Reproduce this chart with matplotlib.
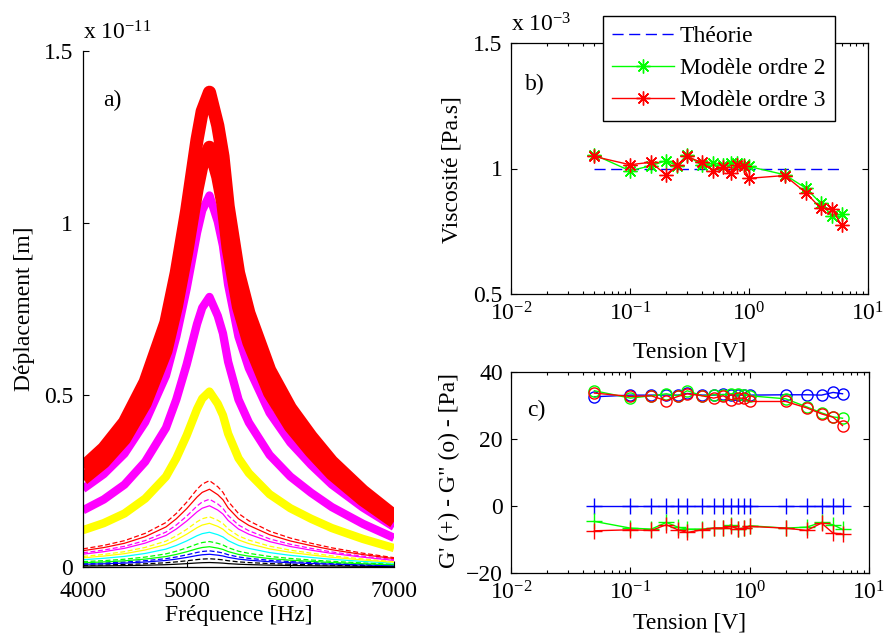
import numpy as np
import matplotlib
matplotlib.use('Agg')
import matplotlib.pyplot as plt

plt.rcParams['font.family'] = ['Liberation Serif', 'DejaVu Serif']
plt.rcParams['mathtext.fontset'] = 'custom'
plt.rcParams['mathtext.rm'] = 'Liberation Serif'
plt.rcParams['mathtext.it'] = 'Liberation Serif:italic'
plt.rcParams['mathtext.bf'] = 'Liberation Serif:bold'

# ---------------- data: panel a) ----------------
freq_hz = [4000, 4200, 4400, 4600, 4800, 4900, 5000, 5100, 5150, 5220, 5300,
           5350, 5400, 5500, 5600, 5800, 6000, 6200, 6400, 6700, 7000]
response_shape = [0.21, 0.25, 0.305, 0.39, 0.515, 0.62, 0.75, 0.90, 0.96, 1.0, 0.93,
                  0.865, 0.76, 0.62, 0.535, 0.415, 0.335, 0.275, 0.222, 0.16, 0.108]
curve_tension_v = [0.05, 0.1, 0.15, 0.2, 0.25, 0.3, 0.4, 0.5, 0.6, 0.7, 0.8, 0.9, 1,
                   2, 3, 4, 5, 6]
peak_displacement = [0.013, 0.024, 0.037, 0.047, 0.059, 0.074, 0.101, 0.127, 0.146,
                     0.178, 0.197, 0.226, 0.251, 0.51, 0.785, 1.08, 1.22, 1.38]  # x 1e-11 m
curve_colors = ['#000000', '#000000', '#0000FF', '#0000FF', '#00FF00', '#00FF00',
                '#00FFFF', '#FFFF00', '#FFFF00', '#FF00FF', '#FF00FF', '#FF0000',
                '#FF0000', '#FFFF00', '#FF00FF', '#FF00FF', '#FF0000', '#FF0000']
curve_styles = ['-', '--', '-', '--', '-', '--', '-', '-', '--', '-', '--', '-', '--',
                '-', '-', '-', '-', '-']
curve_widths = [0.9] * 13 + [6.0, 6.0, 6.0, 9.5, 9.5]

# ---------------- data: panels b) and c) ----------------
tension_v = [0.05, 0.1, 0.15, 0.2, 0.25, 0.3, 0.4, 0.5, 0.6, 0.7, 0.8, 0.9, 1,
             2, 3, 4, 5, 6]
visc_theorie = [1.0] * len(tension_v)
visc_ordre2 = [1.055, 0.991, 1.011, 1.031, 1.011, 1.055, 1.012, 1.021, 1.015, 1.021,
               1.021, 1.012, 1.008, 0.975, 0.922, 0.862, 0.811, 0.818]
visc_ordre3 = [1.048, 1.015, 1.025, 0.975, 1.012, 1.048, 1.024, 0.992, 1.004, 0.981,
               1.012, 1.008, 0.961, 0.972, 0.904, 0.842, 0.839, 0.773]

gp_theorie = [0.0] * len(tension_v)
gpp_theorie = [32.6, 33.1, 33.1, 33.1, 33.1, 33.6, 33.1, 33.1, 33.3, 33.1, 33.1, 33.1,
               33.1, 33.2, 33.2, 33.1, 33.9, 33.5]
gp_ordre2 = [-4.6, -6.6, -6.9, -4.9, -6.3, -6.9, -6.9, -6.6, -6.6, -5.6, -6.9, -6.6,
             -5.9, -6.6, -6.3, -4.9, -5.6, -7.0]
gpp_ordre2 = [34.4, 32.2, 32.9, 33.5, 32.9, 34.4, 32.9, 33.2, 33.2, 33.5, 33.5, 33.2,
              32.9, 32.0, 29.6, 27.8, 26.6, 26.2]
gp_ordre3 = [-7.4, -7.1, -7.3, -5.6, -7.1, -7.9, -7.1, -6.6, -6.6, -6.1, -6.9, -6.6,
             -6.1, -6.6, -7.3, -5.1, -8.1, -8.4]
gpp_ordre3 = [33.7, 32.7, 32.9, 31.4, 32.7, 33.5, 32.9, 32.2, 32.9, 31.7, 32.2, 32.2,
              31.2, 31.2, 29.3, 27.5, 26.5, 24.0]

BLUE, GREEN, RED = '#0000FF', '#00FF00', '#FF0000'
FS = 17
W, H = 886, 638

fig = plt.figure(figsize=(W / 100, H / 100), dpi=100)
axA = fig.add_axes([83 / W, 1 - 567 / H, (394 - 83) / W, (567 - 51) / H])
axB = fig.add_axes([511 / W, 1 - 294 / H, (868 - 511) / W, (294 - 43) / H])
axC = fig.add_axes([511 / W, 1 - 573 / H, (869 - 511) / W, (573 - 372) / H])

# ---------------- panel a ----------------
f = np.array(freq_hz)
shape = np.array(response_shape)
for amp, col, ls, lw in zip(peak_displacement, curve_colors, curve_styles, curve_widths):
    kw = dict(color=col, lw=lw, solid_capstyle='butt', solid_joinstyle='round')
    if ls == '--':
        axA.plot(f, amp * shape, ls='--', dashes=(4, 2), **kw)
    else:
        axA.plot(f, amp * shape, ls='-', **kw)
axA.set_xlim(4000, 7000)
axA.set_ylim(0, 1.5)
axA.set_xticks([4000, 5000, 6000, 7000])
axA.set_yticks([0, 0.5, 1, 1.5])
axA.set_yticklabels(['0', '0.5', '1', '1.5'])
axA.spines['top'].set_visible(False)
axA.spines['right'].set_visible(False)
axA.tick_params(axis='y', direction='in', length=4, width=0.8, labelsize=FS, pad=7)
axA.tick_params(axis='x', direction='in', length=4, width=0.8, labelsize=FS, pad=10)
axA.set_xlabel('Fréquence [Hz]', fontsize=FS)
axA.set_ylabel('Déplacement [m]', fontsize=FS)
axA.xaxis.set_label_coords(0.5, (567 - 615) / 516)
axA.xaxis.label.set_va('center')
axA.yaxis.set_label_coords((25 - 83) / 311, 0.5)
axA.yaxis.label.set_va('center')
axA.text(0.065, 0.905, 'a)', transform=axA.transAxes, fontsize=FS, va='center', ha='left')
axA.annotate('x 10$^{-11}$', xy=(0, 1), xycoords='axes fraction', xytext=(0, 5),
             textcoords='offset points', fontsize=FS, ha='left', va='bottom')

# ---------------- panel b ----------------
star = (8, 2, 0)
axB.semilogx(tension_v, visc_theorie, ls='--', dashes=(8, 4), color=BLUE, lw=1,
             label='Théorie')
axB.semilogx(tension_v, visc_ordre2, '-', color=GREEN, lw=1, marker=star, ms=10, mew=1,
             label='Modèle ordre 2')
axB.semilogx(tension_v, visc_ordre3, '-', color=RED, lw=1, marker=star, ms=10, mew=1,
             label='Modèle ordre 3')
axB.set_xlim(1e-2, 1e1)
axB.set_ylim(0.5, 1.5)
axB.set_yticks([0.5, 1, 1.5])
axB.set_yticklabels(['0.5', '1', '1.5'])
axB.set_xlabel('Tension [V]', fontsize=FS)
axB.set_ylabel('Viscosité [Pa.s]', fontsize=FS)
axB.xaxis.set_label_coords(0.5, (294 - 352) / 251)
axB.xaxis.label.set_va('center')
axB.yaxis.set_label_coords((452 - 511) / 357, 0.494)
axB.yaxis.label.set_va('center')
axB.text(0.04, 0.833, 'b)', transform=axB.transAxes, fontsize=FS, va='center', ha='left')
axB.annotate('x 10$^{-3}$', xy=(0, 1), xycoords='axes fraction', xytext=(0, 5),
             textcoords='offset points', fontsize=FS, ha='left', va='bottom')

# ---------------- panel c ----------------
for gp, gpp, col in [(gp_theorie, gpp_theorie, BLUE), (gp_ordre2, gpp_ordre2, GREEN),
                     (gp_ordre3, gpp_ordre3, RED)]:
    axC.semilogx(tension_v, gp, '-', color=col, lw=1, marker='+', ms=11, mew=1)
    axC.semilogx(tension_v, gpp, '-', color=col, lw=1, marker='o', ms=8, mew=1,
                 mfc='none')
axC.set_xlim(1e-2, 1e1)
axC.set_ylim(-20, 40)
axC.set_yticks([-20, 0, 20, 40])
axC.set_xlabel('Tension [V]', fontsize=FS)
axC.set_ylabel('G\' (+) - G" (o) - [Pa]', fontsize=FS)
axC.xaxis.set_label_coords(0.5, (573 - 623) / 201)
axC.xaxis.label.set_va('center')
axC.yaxis.set_label_coords((449 - 511) / 358, 0.51)
axC.yaxis.label.set_va('center')
axC.text(0.045, 0.81, 'c)', transform=axC.transAxes, fontsize=FS, va='center', ha='left')

for ax in (axB, axC):
    ax.tick_params(which='both', direction='in', top=True, right=True, width=0.8,
                   labelsize=FS)
    ax.tick_params(which='major', length=4, pad=6)
    ax.tick_params(which='minor', length=2)
    for s in ax.spines.values():
        s.set_linewidth(0.9)
for s in axA.spines.values():
    s.set_linewidth(0.9)

# ---------------- legend ----------------
handles, labels = axB.get_legend_handles_labels()
leg = fig.legend(handles, labels, loc='upper left', bbox_to_anchor=(603 / W, 1 - 16 / H),
                 bbox_transform=fig.transFigure, fontsize=FS, frameon=True, fancybox=False,
                 edgecolor='black', framealpha=1, borderpad=0.4, handlelength=2.6,
                 handletextpad=0.25, labelspacing=0.45, borderaxespad=0, numpoints=1)
leg.get_frame().set_linewidth(1.0)

fig.savefig('out.png', dpi=100)
